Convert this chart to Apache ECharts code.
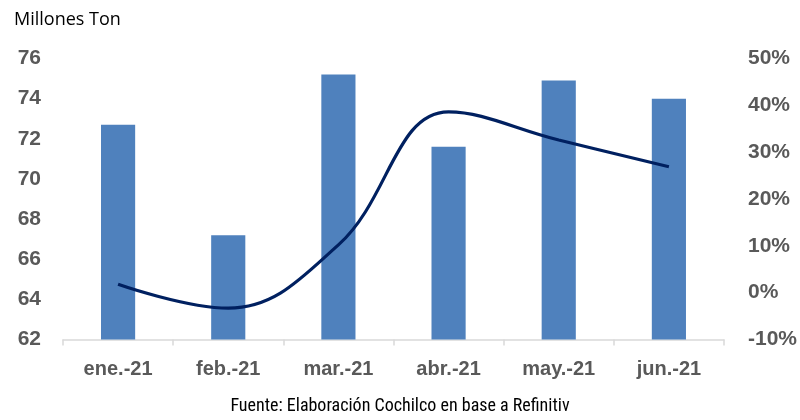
<!DOCTYPE html>
<html>
<head>
<meta charset="utf-8">
<script src="https://cdn.jsdelivr.net/npm/echarts@6/dist/echarts.min.js"></script>
<style>
  html, body { margin: 0; padding: 0; background: #ffffff; }
  #chart { width: 800px; height: 420px; }
</style>
</head>
<body>
<div id="chart"></div>
<script>
// Monthly volume (million tonnes) and year-on-year change (%)
const months = ['ene.-21', 'feb.-21', 'mar.-21', 'abr.-21', 'may.-21', 'jun.-21'];
const volume = [72.7, 67.2, 75.2, 71.6, 74.9, 74.0];
const change = [1.8, -3.3, 10.2, 38.6, 32.6, 26.9];

const axisFont = '"Liberation Sans", Arial, sans-serif';
const yLabelStyle = { color: '#595959', fontSize: 21, fontWeight: 'bold', fontFamily: axisFont };
const xLabelStyle = { color: '#595959', fontSize: 20, fontWeight: 'bold', fontFamily: axisFont };

const chart = echarts.init(document.getElementById('chart'), null, { renderer: 'canvas' });
chart.setOption({
  animation: false,
  backgroundColor: '#ffffff',
  grid: { left: 63, right: 74, top: 58.5, bottom: 80.5 },
  title: [
    {
      text: 'Millones Ton', left: 9, top: 6,
      textStyle: { color: '#000000', fontSize: 18, fontWeight: 'normal', fontFamily: '"Open Sans", sans-serif' }
    },
    {
      text: 'Fuente: Elaboración Cochilco en base a Refinitiv', left: 'center', top: 392,
      textStyle: { color: '#000000', fontSize: 18, fontWeight: 'normal', fontFamily: '"Liberation Sans Narrow", "Roboto Condensed", "Liberation Sans", sans-serif' }
    }
  ],
  xAxis: {
    type: 'category',
    data: months,
    axisLine: { onZero: false, lineStyle: { color: '#d9d9d9', width: 1.5 } },
    axisTick: { show: true, alignWithLabel: false, length: 6, lineStyle: { color: '#d9d9d9', width: 1.5 } },
    axisLabel: Object.assign({ margin: 20 }, xLabelStyle),
    splitLine: { show: false }
  },
  yAxis: [
    {
      type: 'value', min: 62, max: 76, interval: 2,
      axisLine: { show: false }, axisTick: { show: false }, splitLine: { show: false },
      axisLabel: Object.assign({ margin: 22, align: 'right' }, yLabelStyle)
    },
    {
      type: 'value', min: -10, max: 50, interval: 10, position: 'right',
      axisLine: { show: false }, axisTick: { show: false }, splitLine: { show: false },
      axisLabel: Object.assign({ margin: 24, align: 'left', formatter: '{value}%' }, yLabelStyle)
    }
  ],
  series: [
    {
      type: 'bar', data: volume, yAxisIndex: 0, barWidth: '31%',
      itemStyle: { color: '#4f81bd' }
    },
    {
      type: 'line', data: change, yAxisIndex: 1, smooth: 0.4,
      symbol: 'none',
      lineStyle: { color: '#002060', width: 3.2 }
    }
  ]
});
</script>
</body>
</html>
